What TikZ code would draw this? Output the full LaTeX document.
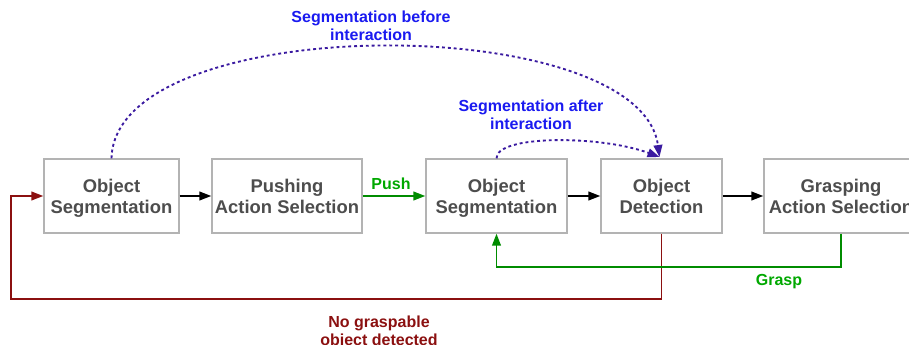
\documentclass[tikz,border=0pt]{standalone}
\usepackage{fontspec}
\setmainfont{Liberation Sans}
\usetikzlibrary{arrows.meta}
\definecolor{boxgray}{HTML}{B3B3B3}
\definecolor{textgray}{HTML}{4D4D4D}
\definecolor{pushgreen}{HTML}{00A800}
\definecolor{linegreen}{HTML}{008C00}
\definecolor{labelblue}{HTML}{1A1AF0}
\definecolor{dotblue}{HTML}{3A1AA0}
\definecolor{failred}{HTML}{8B1010}
\newcommand\blocktext[2]{\rule{0pt}{15.5pt}#1\\#2\strut}
\tikzset{
  block/.style={draw=boxgray, line width=1pt, fill=white, text=textgray, align=center,
    font=\fontsize{13.8}{15.75}\selectfont\bfseries, minimum height=55.5pt, inner sep=0pt},
  flow/.style={line width=1.4pt, -{Triangle[length=9pt,width=6.5pt]}},
  seglink/.style={flow, dotblue, dash pattern=on 2.2pt off 2.2pt},
  lbl/.style={font=\fontsize{12}{13.5}\selectfont\bfseries, align=center}
}
\begin{document}
\begin{tikzpicture}[x=0.75pt,y=-0.75pt]
\useasboundingbox (0,0) rectangle (909,345);
\clip (0,0) rectangle (909,345);
\node[block, minimum width=101.25pt] (seg1) at (111.5,196) {\blocktext{Object}{Segmentation}};
\node[block, minimum width=112.5pt] (push) at (287,196) {\blocktext{Pushing}{Action Selection}};
\node[block, minimum width=105.75pt] (seg2) at (496.5,196) {\blocktext{Object}{Segmentation}};
\node[block, minimum width=90.75pt] (detect) at (661.5,196) {\blocktext{Object}{Detection}};
\node[block, minimum width=115.5pt] (grasp) at (841,196) {\blocktext{Grasping}{Action Selection}};
\draw[flow] (seg1) -- (push);
\draw[flow, linegreen] (push) -- (seg2);
\draw[flow] (seg2) -- (detect);
\draw[flow] (detect) -- (grasp);
\coordinate (nofb) at (11,299);
\draw[flow, failred] (detect.south) |- (nofb) |- (seg1.west);
\draw[flow, linegreen] (grasp.south) -- ++(0,33) -| (seg2.south);
\draw[seglink] (seg1.north) .. controls (115,10) and (640,10) .. ([xshift=-1.5pt,yshift=1pt]detect.north);
\draw[seglink] (seg2.north) .. controls (496,135) and (600,135) .. ([xshift=-1.5pt,yshift=1pt]detect.north);
\node[lbl, pushgreen] (pushlbl) at (391,184) {Push};
\node[lbl, pushgreen] (grasplbl) at (779,282) {Grasp};
\node[lbl, failred] (faillbl) at (379,332) {No graspable\\object detected};
\node[lbl, labelblue] (beforelbl) at (371,26) {Segmentation before\\interaction};
\node[lbl, labelblue] (afterlbl) at (531,115) {Segmentation after\\interaction};
\end{tikzpicture}
\end{document}
